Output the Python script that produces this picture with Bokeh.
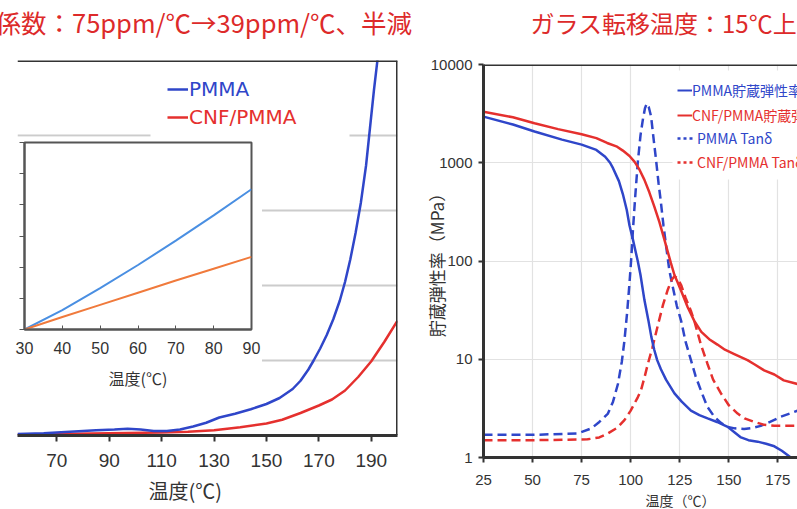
from bokeh.plotting import figure
from bokeh.models import (Range1d, FixedTicker, Span, Legend, LegendItem, BoxAnnotation,
                          LinearAxis, Title)
from bokeh.embed import file_html
from bokeh.resources import INLINE

# ---------------- data ----------------
left_title = "係数：75ppm/℃→39ppm/℃、半減"
right_title = "ガラス転移温度：15℃上"
temp_label_left = "温度(℃)"
temp_label_right = "温度（℃）"
modulus_label = "貯蔵弾性率（MPa）"

# left main panel: thermal expansion vs temperature
cte_temp_pmma = [55, 65, 75, 85, 92, 97, 102, 107, 112, 117, 122, 127, 132, 138, 144, 150,
                 155, 160, 163, 166, 168, 170.5, 173, 175.5, 178, 180, 182, 184, 186, 188,
                 189.5, 191, 192.5, 194, 196]
cte_pmma = [0.02, 0.03, 0.05, 0.07, 0.08, 0.09, 0.08, 0.06, 0.06, 0.08, 0.12, 0.17, 0.24,
            0.29, 0.35, 0.42, 0.50, 0.62, 0.73, 0.88, 1.0, 1.16, 1.34, 1.55, 1.80, 2.05,
            2.35, 2.7, 3.1, 3.6, 4.1, 4.6, 5.05, 5.5, 6.2]
cte_temp_cnf = [55, 70, 90, 110, 120, 130, 140, 150, 156, 163, 170, 175, 180, 185, 190, 195, 200]
cte_cnf = [0.01, 0.02, 0.03, 0.04, 0.05, 0.07, 0.11, 0.16, 0.21, 0.30, 0.40, 0.48, 0.60,
           0.78, 0.99, 1.25, 1.53]
left_xticks = [70, 90, 110, 130, 150, 170, 190]
left_ygrid = [1, 2, 3, 4]

# inset: 30-90 degC
inset_temp = [30, 40, 50, 60, 70, 80, 90]
inset_pmma = [0, 0.62, 1.33, 2.07, 2.85, 3.66, 4.5]
inset_cnf = [0, 0.40, 0.79, 1.18, 1.57, 1.95, 2.33]
inset_xticks = [30, 40, 50, 60, 70, 80, 90]
inset_yticks = [0, 1, 2, 3, 4, 5, 6]

# right panel: DMA
pmma_E_temp = [25, 40, 51, 65, 75, 82.5, 87, 89.5, 91, 94, 96, 98, 99.4, 101, 102.3, 103.6,
               105, 107, 109, 110.5, 112, 113.5, 115.4, 118, 122.3, 126, 130.7, 135, 139.2,
               144, 149.4, 153, 156.2, 160, 164.7, 169, 173.2, 177, 181.6, 186, 190]
pmma_E = [2950, 2450, 2080, 1720, 1530, 1350, 1150, 1000, 880, 650, 480, 330, 230, 170, 130,
          100, 72, 40, 25, 17, 12.5, 9.8, 7.9, 6.2, 4.5, 3.7, 3.0, 2.7, 2.5, 2.3, 2.05, 1.8,
          1.6, 1.5, 1.45, 1.38, 1.3, 1.17, 1.0, 0.88, 0.8]
cnf_E_temp = [25, 40, 51, 63, 75, 82.5, 88, 92.7, 96, 99.4, 102, 104.5, 107, 109.5, 112,
              114.6, 117, 118.9, 120.5, 122.3, 124, 126, 129, 132.4, 136, 140, 144.2, 148,
              152.8, 159.5, 163, 168, 173.2, 178, 185, 190]
cnf_E = [3300, 2900, 2520, 2200, 1950, 1780, 1590, 1470, 1330, 1170, 1020, 850, 670, 500,
         360, 250, 170, 124, 95, 72, 60, 48, 34, 24.6, 19, 16, 14.1, 12.5, 11.3, 9.8, 8.9,
         7.7, 7.0, 6.1, 5.6, 5.3]
pmma_tan_temp = [25, 50, 73, 80, 84, 88.4, 91, 93.5, 95.5, 96.8, 98.2, 99.4, 100.3, 101.1,
                 102.3, 103.6, 105, 106.2, 107.3, 108.2, 109.2, 110.4, 111.6, 112.9, 114.2,
                 115.4, 116.7, 118, 119.7, 121.4, 123.5, 125.7, 128, 130.7, 133, 135.8, 139,
                 142.6, 146, 149.4, 153, 157.8, 162, 166.3, 171, 176.5, 181, 185, 190]
pmma_tan = [1.70, 1.70, 1.76, 1.98, 2.3, 2.8, 3.7, 5.6, 9.5, 15.4, 30, 60, 107, 200, 450,
            1000, 1900, 2750, 3600, 4000, 3700, 2950, 1800, 1080, 620, 395, 230, 145, 80, 55,
            35, 24.6, 15, 9.8, 6.8, 4.8, 3.3, 2.6, 2.25, 2.05, 1.98, 1.95, 2.0, 2.1, 2.3, 2.6,
            2.8, 3.0, 3.3]
cnf_tan_temp = [25, 50, 78, 84, 88.4, 93, 96.8, 100, 103.6, 105.2, 107, 108.7, 111, 113.8,
                116.5, 118.9, 120.8, 122.3, 124, 125.7, 128, 130.7, 132.4, 135.8, 139.2, 142,
                146, 150, 154.5, 158, 163, 168, 173.2, 180, 190]
cnf_tan = [1.5, 1.5, 1.53, 1.6, 1.76, 2.0, 2.4, 3.0, 4.1, 4.8, 6.5, 8.9, 13, 22, 36, 51, 64,
           70, 66, 57, 42, 31, 24.6, 14, 8.9, 6.2, 4.5, 3.4, 2.8, 2.5, 2.3, 2.15, 2.1, 2.1, 2.1]
right_xticks = [25, 50, 75, 100, 125, 150, 175]
right_yticks = [1, 10, 100, 1000, 10000]
right_ytick_labels = ["1", "10", "100", "1000", "10000"]

legend_left = ["PMMA", "CNF/PMMA"]
legend_right = ["PMMA貯蔵弾性率", "CNF/PMMA貯蔵弾性率", "PMMA Tanδ", "CNF/PMMA Tanδ"]

# ---------------- styles ----------------
BLUE = "#2f46c9"
RED = "#e5302e"
TITLE_RED = "#dd2a2a"
INSET_BLUE = "#4a8fe2"
INSET_ORANGE = "#f07a3c"
DARK = "#333333"
CJK = "Noto Sans CJK JP"
SANS = "'Liberation Sans', sans-serif"


def add_heading(p, text, gap, offset, size):
    # an axis with one invisible tick reserves `gap` px above the frame,
    # the heading Title then sits above it
    spacer = LinearAxis(ticker=FixedTicker(ticks=[p.x_range.start]), axis_line_color=None,
                        major_tick_in=0, major_tick_out=gap, major_tick_line_color=None,
                        minor_tick_in=0, minor_tick_out=0, major_label_standoff=0,
                        major_label_text_font_size="1px", major_label_text_alpha=0)
    p.add_layout(spacer, "above")
    p.add_layout(Title(text=text, align="left", offset=offset, standoff=0,
                       text_font=CJK, text_font_size=size, text_font_style="normal",
                       text_color=TITLE_RED), "above")


# ---------------- left main figure ----------------
left = figure(width=420, height=509, x_range=Range1d(55, 200), y_range=Range1d(0, 5),
              title=None, output_backend="svg", toolbar_location=None,
              min_border_left=17, min_border_right=23, min_border_top=58, min_border_bottom=74)
left.styles = {"position": "absolute", "left": "0px", "top": "0px"}
left.outline_line_color = None
left.yaxis.visible = False
left.xgrid.visible = False
left.ygrid.ticker = FixedTicker(ticks=left_ygrid)
left.ygrid.grid_line_color = "#cccccc"
left.ygrid.grid_line_width = 2
xa = left.xaxis[0]
xa.ticker = FixedTicker(ticks=left_xticks)
xa.axis_line_color = DARK
xa.axis_line_width = 3
xa.major_tick_line_color = DARK
xa.major_tick_line_width = 2
xa.major_tick_in = 0
xa.major_tick_out = 6
xa.minor_tick_line_color = None
xa.major_label_text_font = SANS
xa.major_label_text_font_size = "19px"
xa.major_label_text_color = DARK
xa.major_label_standoff = 12
add_heading(left, left_title, 21, -22, "25.5px")
left.add_layout(Title(text=temp_label_left, align="left", offset=131, standoff=8,
                      text_font=CJK, text_font_size="20px", text_font_style="normal",
                      text_color=DARK), "below")

r_cnf = left.line(cte_temp_cnf, cte_cnf, line_color=RED, line_width=2.5)
r_pmma = left.line(cte_temp_pmma, cte_pmma, line_color=BLUE, line_width=2.5)

left.add_layout(Span(location=left.y_range.end, dimension="width", line_color=DARK, line_width=3))
left.add_layout(Span(location=left.x_range.end, dimension="height", line_color=DARK, line_width=3))
left.add_layout(BoxAnnotation(left=133, right=332, top=373, bottom=295,
                              left_units="screen", right_units="screen",
                              top_units="screen", bottom_units="screen",
                              fill_color="white", fill_alpha=1, line_color=None))

for txt, rend, col, loc in [(legend_left[0], r_pmma, BLUE, (150, 334)),
                            (legend_left[1], r_cnf, RED, (150, 306))]:
    lg = Legend(items=[LegendItem(label=txt, renderers=[rend])], location=loc,
                label_text_color=col, label_text_font="DejaVu Sans",
                label_text_font_size="20px", glyph_width=21, glyph_height=20,
                label_height=20, label_standoff=1, padding=0, margin=0, spacing=0,
                border_line_color=None, background_fill_alpha=0)
    left.add_layout(lg)

# ---------------- inset ----------------
inset = figure(width=248, height=259, x_range=Range1d(30, 90), y_range=Range1d(0, 6),
               title=None, output_backend="svg", toolbar_location=None,
               min_border_left=10, min_border_right=11, min_border_top=6, min_border_bottom=66)
inset.styles = {"position": "absolute", "left": "14px", "top": "136px", "z-index": "10"}
inset.outline_line_color = "#555555"
inset.outline_line_width = 2
inset.grid.visible = False
ix = inset.xaxis[0]
ix.ticker = FixedTicker(ticks=inset_xticks)
ix.axis_line_color = "#555555"
ix.axis_line_width = 2
ix.major_tick_in = 4
ix.major_tick_out = 0
ix.major_tick_line_color = "#555555"
ix.minor_tick_line_color = None
ix.major_label_text_font = SANS
ix.major_label_text_font_size = "16px"
ix.major_label_text_color = DARK
ix.major_label_standoff = 12
ix.axis_label = temp_label_left
ix.axis_label_text_font = CJK
ix.axis_label_text_font_style = "normal"
ix.axis_label_text_font_size = "16px"
ix.axis_label_text_color = DARK
ix.axis_label_standoff = 9
iy = inset.yaxis[0]
iy.ticker = FixedTicker(ticks=inset_yticks)
iy.axis_line_color = "#555555"
iy.axis_line_width = 2
iy.major_tick_in = 0
iy.major_tick_out = 5
iy.major_tick_line_color = "#555555"
iy.minor_tick_line_color = None
iy.major_label_text_font_size = "8px"
iy.major_label_text_alpha = 0
iy.major_label_standoff = 0
inset.line(inset_temp, inset_pmma, line_color=INSET_BLUE, line_width=2)
inset.line(inset_temp, inset_cnf, line_color=INSET_ORANGE, line_width=2)

# ---------------- right figure ----------------
right = figure(width=377, height=509, x_range=Range1d(25, 185), y_range=Range1d(1, 10000),
               y_axis_type="log", title=None, output_backend="svg", toolbar_location=None,
               min_border_left=63, min_border_right=0, min_border_top=64, min_border_bottom=49)
right.styles = {"position": "absolute", "left": "420px", "top": "0px"}
right.outline_line_color = None
right.xgrid.ticker = FixedTicker(ticks=right_xticks)
right.ygrid.ticker = FixedTicker(ticks=right_yticks)
right.grid.grid_line_color = "#e2e2e2"
right.grid.grid_line_width = 1.2
rx = right.xaxis[0]
rx.ticker = FixedTicker(ticks=right_xticks)
rx.axis_line_color = DARK
rx.axis_line_width = 3
rx.major_tick_line_color = DARK
rx.major_tick_line_width = 2
rx.major_tick_in = 0
rx.major_tick_out = 5
rx.minor_tick_line_color = None
rx.major_label_text_font = SANS
rx.major_label_text_font_size = "15px"
rx.major_label_text_color = DARK
rx.major_label_standoff = 12
ry = right.yaxis[0]
ry.ticker = FixedTicker(ticks=right_yticks)
ry.major_label_overrides = {t: s for t, s in zip(right_yticks, right_ytick_labels)}
ry.axis_line_color = DARK
ry.axis_line_width = 3
ry.major_tick_line_color = DARK
ry.major_tick_line_width = 2
ry.major_tick_in = 0
ry.major_tick_out = 5
ry.minor_tick_line_color = None
ry.major_label_text_font = SANS
ry.major_label_text_font_size = "15px"
ry.major_label_text_color = DARK
ry.major_label_standoff = 6
ry.axis_label = modulus_label
ry.axis_label_text_font = CJK
ry.axis_label_text_font_style = "normal"
ry.axis_label_text_font_size = "17px"
ry.axis_label_text_color = DARK
ry.axis_label_standoff = -21
add_heading(right, right_title, 25, 47, "24px")
right.add_layout(Title(text=temp_label_right, align="left", offset=162, standoff=0,
                       text_font=CJK, text_font_size="14px", text_font_style="normal",
                       text_color=DARK), "below")

right.line(pmma_tan_temp, pmma_tan, line_color=BLUE, line_width=2.5, line_dash="9 5")
right.line(cnf_tan_temp, cnf_tan, line_color=RED, line_width=2.5, line_dash="9 5")
right.line(pmma_E_temp, pmma_E, line_color=BLUE, line_width=2.5)
right.line(cnf_E_temp, cnf_E, line_color=RED, line_width=2.5)

right.add_layout(Span(location=right.y_range.end, dimension="width", line_color=DARK, line_width=3))
right.add_layout(BoxAnnotation(left=189, right=330, top=387, bottom=278,
                               left_units="screen", right_units="screen",
                               top_units="screen", bottom_units="screen",
                               fill_color="white", fill_alpha=1, line_color=None))

# legend keys (hidden copies of the series, styled as in the original key)
keys = [right.line(pmma_E_temp, pmma_E, line_color=BLUE, line_width=2, visible=False),
        right.line(cnf_E_temp, cnf_E, line_color=RED, line_width=2, visible=False),
        right.line(pmma_tan_temp, pmma_tan, line_color=BLUE, line_width=2.5,
                   line_dash="3 3", visible=False),
        right.line(cnf_tan_temp, cnf_tan, line_color=RED, line_width=2.5,
                   line_dash="3 3", visible=False)]
leg_cols = [BLUE, RED, BLUE, RED]
leg_y = [357, 332, 309, 285]
leg_gw = [15, 15, 18, 18]
leg_so = [0, 0, 2, 2]
for txt, rend, col, yy, gw, so in zip(legend_right, keys, leg_cols, leg_y, leg_gw, leg_so):
    lg = Legend(items=[LegendItem(label=txt, renderers=[rend])], location=(194, yy),
                label_text_color=col, label_text_font=CJK, label_text_font_size="14px",
                glyph_width=gw, glyph_height=16, label_height=16, label_standoff=so,
                padding=0, margin=0, spacing=0, border_line_color=None,
                background_fill_alpha=0, inactive_fill_alpha=0)
    right.add_layout(lg)

open("out.html", "w").write(file_html([left, right, inset], INLINE))
